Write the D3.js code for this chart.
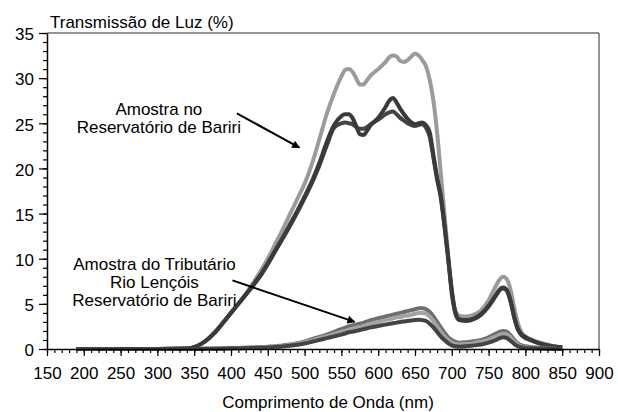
<!DOCTYPE html>
<html>
<head>
<meta charset="utf-8">
<script src="https://cdn.jsdelivr.net/npm/d3@7"></script>
<style>
  body { margin: 0; background: #fff; }
  text { font-family: "Liberation Sans", Arial, sans-serif; fill: #000; }
</style>
</head>
<body>
<div class="espectro"></div>
<script>
// Comprimento de onda (nm)
var onda = [190, 300, 340, 350, 360, 370, 380, 390, 400, 410, 420, 430, 440, 450, 460, 470, 480, 490,
  500, 510, 520, 530, 540, 550, 555, 560, 565, 570, 575, 580, 585, 590, 600, 610, 615, 620, 625, 630,
  635, 640, 645, 650, 655, 660, 665, 670, 675, 680, 685, 690, 695, 700, 705, 710, 720, 730, 740, 750,
  760, 765, 770, 775, 780, 785, 790, 795, 800, 810, 820, 830, 840, 850];

// Reservatorio de Bariri (3 amostras)
var resClaro = [0, 0, 0.05, 0.2, 0.6, 1.2, 2.0, 3.0, 4.0, 5.0, 6.1, 7.3, 8.6, 10.0, 11.6, 13.2, 14.9, 16.6,
  18.3, 20.5, 23.2, 26.0, 28.3, 30.2, 30.9, 31.0, 30.7, 30.0, 29.3, 29.3, 29.8, 30.3, 31.0, 31.8, 32.3, 32.5, 32.4, 31.9,
  31.8, 32.0, 32.4, 32.7, 32.5, 32.0, 31.3, 29.8, 27.5, 24.0, 19.5, 15.0, 10.5, 6.0, 4.2, 3.7, 3.6, 3.8, 4.3, 5.4,
  7.0, 7.7, 8.0, 7.7, 6.5, 4.5, 2.8, 1.8, 1.4, 1.0, 0.7, 0.5, 0.3, 0.2];
var resEscuro1 = [0, 0, 0.05, 0.2, 0.6, 1.2, 2.0, 3.0, 4.0, 5.0, 6.0, 7.1, 8.2, 9.5, 10.9, 12.3, 13.8, 15.3,
  16.9, 18.6, 20.6, 22.9, 24.8, 25.8, 26.0, 26.0, 25.6, 24.7, 23.8, 23.7, 24.2, 24.8, 25.6, 26.8, 27.5, 27.8, 27.3, 26.6,
  26.0, 25.5, 25.1, 24.9, 25.0, 25.1, 24.8, 24.0, 21.5, 19.0, 17.0, 13.8, 10.2, 6.5, 4.0, 3.3, 3.2, 3.4, 3.9, 4.8,
  6.0, 6.6, 6.8, 6.5, 5.3, 3.5, 2.2, 1.6, 1.3, 0.9, 0.6, 0.4, 0.25, 0.2];
var resEscuro2 = [0, 0, 0.05, 0.2, 0.6, 1.2, 2.0, 3.0, 4.0, 5.0, 6.0, 7.0, 8.1, 9.4, 10.8, 12.2, 13.6, 15.1,
  16.7, 18.4, 20.3, 22.5, 24.5, 25.0, 25.1, 25.0, 24.9, 24.6, 24.4, 24.4, 24.6, 24.9, 25.4, 26.0, 26.2, 26.3, 26.0, 25.6,
  25.3, 25.0, 24.8, 24.7, 24.8, 24.9, 24.5, 23.5, 21.2, 18.8, 16.8, 13.6, 10.0, 6.3, 3.9, 3.2, 3.1, 3.3, 3.8, 4.7,
  5.9, 6.5, 6.7, 6.4, 5.2, 3.4, 2.1, 1.5, 1.2, 0.9, 0.6, 0.4, 0.25, 0.2];

// Tributario Rio Lencois (3 amostras)
var tribMedio = [0, 0, 0, 0, 0.02, 0.03, 0.05, 0.07, 0.1, 0.12, 0.15, 0.18, 0.2, 0.25, 0.3, 0.4, 0.5, 0.65,
  0.85, 1.1, 1.35, 1.6, 1.9, 2.2, 2.35, 2.5, 2.6, 2.7, 2.8, 2.9, 3.05, 3.2, 3.4, 3.6, 3.7, 3.8, 3.9, 4.0,
  4.1, 4.2, 4.3, 4.4, 4.5, 4.5, 4.4, 4.1, 3.6, 3.0, 2.4, 1.8, 1.3, 1.0, 0.8, 0.7, 0.75, 0.85, 1.0, 1.3,
  1.7, 1.9, 2.0, 1.9, 1.5, 1.0, 0.6, 0.4, 0.3, 0.2, 0.1, 0.05, 0.02, 0];
var tribClaro = [0, 0, 0, 0, 0.02, 0.03, 0.04, 0.06, 0.08, 0.1, 0.12, 0.15, 0.18, 0.22, 0.27, 0.35, 0.45, 0.58,
  0.75, 0.95, 1.2, 1.4, 1.65, 1.9, 2.0, 2.15, 2.25, 2.35, 2.45, 2.55, 2.7, 2.8, 3.0, 3.2, 3.3, 3.4, 3.5, 3.55,
  3.65, 3.7, 3.8, 3.9, 4.0, 4.0, 3.9, 3.6, 3.1, 2.5, 1.9, 1.4, 1.0, 0.7, 0.55, 0.5, 0.55, 0.65, 0.8, 1.05,
  1.4, 1.6, 1.7, 1.6, 1.25, 0.8, 0.45, 0.3, 0.2, 0.12, 0.08, 0.04, 0.02, 0];
var tribEscuro = [0, 0, 0, 0, 0.01, 0.02, 0.03, 0.05, 0.07, 0.08, 0.1, 0.12, 0.15, 0.18, 0.22, 0.28, 0.36, 0.47,
  0.6, 0.8, 1.0, 1.2, 1.4, 1.6, 1.72, 1.85, 1.92, 2.0, 2.1, 2.2, 2.3, 2.4, 2.55, 2.7, 2.78, 2.85, 2.92, 3.0,
  3.05, 3.1, 3.15, 3.2, 3.25, 3.2, 3.1, 2.8, 2.4, 1.9, 1.4, 1.0, 0.65, 0.4, 0.3, 0.25, 0.3, 0.4, 0.5, 0.7,
  1.0, 1.2, 1.3, 1.2, 0.9, 0.55, 0.3, 0.2, 0.12, 0.08, 0.05, 0.03, 0.01, 0];

var xTicks = [150, 200, 250, 300, 350, 400, 450, 500, 550, 600, 650, 700, 750, 800, 850, 900];
var yTicks = [0, 5, 10, 15, 20, 25, 30, 35];

var series = [
  { nome: "resClaro", valores: resClaro, cor: "#9b9b9b" },
  { nome: "resEscuro2", valores: resEscuro2, cor: "#444444" },
  { nome: "resEscuro1", valores: resEscuro1, cor: "#3a3a3a" },
  { nome: "tribMedio", valores: tribMedio, cor: "#6e6e6e" },
  { nome: "tribClaro", valores: tribClaro, cor: "#a3a3a3" },
  { nome: "tribEscuro", valores: tribEscuro, cor: "#444444" }
];

var width = 618, height = 412;
var margin = { top: 33, right: 19, bottom: 63, left: 47 },
    w = width - margin.left - margin.right,
    h = height - margin.top - margin.bottom;

var svg = d3.select(".espectro")
    .append("svg")
    .attr("width", width)
    .attr("height", height);

var defs = svg.append("defs");
defs.append("marker")
    .attr("id", "seta")
    .attr("viewBox", "0 0 10 10")
    .attr("refX", 9)
    .attr("refY", 5)
    .attr("markerWidth", 11)
    .attr("markerHeight", 8)
    .attr("markerUnits", "userSpaceOnUse")
    .attr("orient", "auto")
    .append("path")
    .attr("d", "M0,0L10,5L0,10Z")
    .attr("fill", "#000");

var g = svg.append("g")
    .attr("transform", "translate(" + margin.left + "," + margin.top + ")");

var x = d3.scaleLinear().domain([150, 900]).range([0, w]);
var y = d3.scaleLinear().domain([0, 35]).range([h, 0]);

// moldura superior e direita
g.append("line")
    .attr("x1", 0).attr("x2", w).attr("y1", 0).attr("y2", 0)
    .attr("stroke", "#6f6f6f").attr("stroke-width", 1.5);
g.append("line")
    .attr("x1", w).attr("x2", w).attr("y1", 0).attr("y2", h)
    .attr("stroke", "#6f6f6f").attr("stroke-width", 1.5);

var linha = d3.line()
    .x(function(d, i) { return x(onda[i]); })
    .y(function(d) { return y(d); })
    .curve(d3.curveMonotoneX);

g.selectAll(".curva")
    .data(series)
    .enter()
    .append("path")
    .attr("class", "curva")
    .attr("fill", "none")
    .attr("stroke", function(d) { return d.cor; })
    .attr("stroke-width", 4)
    .attr("stroke-linejoin", "round")
    .attr("d", function(d) { return linha(d.valores); });

// eixos
var minorX = d3.range(150, 901, 10);
var minorY = d3.range(0, 36, 1);

g.append("g")
    .attr("transform", "translate(0," + h + ")")
    .call(d3.axisBottom(x).tickValues(minorX).tickSize(4).tickFormat(""))
    .call(function(s) { s.select(".domain").remove(); });

g.append("g")
    .attr("class", "xAxis")
    .attr("transform", "translate(0," + h + ")")
    .call(d3.axisBottom(x).tickValues(xTicks).tickSize(7).tickSizeOuter(0).tickPadding(11).tickFormat(d3.format("d")));

g.append("g")
    .call(d3.axisLeft(y).tickValues(minorY).tickSize(4).tickFormat(""))
    .call(function(s) { s.select(".domain").remove(); });

g.append("g")
    .attr("class", "yAxis")
    .call(d3.axisLeft(y).tickValues(yTicks).tickSize(8).tickSizeOuter(0).tickPadding(5).tickFormat(d3.format("d")));

g.selectAll(".tick line").attr("stroke", "#000").attr("stroke-width", 1.2);
g.selectAll(".domain").attr("stroke", "#000").attr("stroke-width", 1.5);
g.selectAll(".tick text")
    .style("font-family", "'Liberation Sans', Arial, sans-serif")
    .style("font-size", "17px")
    .attr("fill", "#000");
g.selectAll(".yAxis .tick text").attr("dy", "0.4em");

// titulos
svg.append("text")
    .attr("x", 50).attr("y", 28)
    .style("font-size", "17px")
    .text("Transmissão de Luz (%)");

svg.append("text")
    .attr("x", margin.left + w / 2 + 5).attr("y", 408)
    .attr("text-anchor", "middle")
    .style("font-size", "17px")
    .text("Comprimento de Onda (nm)");

// anotacoes
var notas = [
  { linhas: ["Amostra no", "Reservatório de Bariri"], onda: 302, valor: 25.9,
    seta: [408, 26.1, 493, 22.3] },
  { linhas: ["Amostra do Tributário", "Rio Lençóis", "Reservatório de Bariri"], onda: 296, valor: 8.75,
    seta: [402, 7.6, 568, 3.0] }
];

notas.forEach(function(n) {
  var t = g.append("text")
      .attr("text-anchor", "middle")
      .style("font-size", "17px");
  n.linhas.forEach(function(l, i) {
    t.append("tspan")
        .attr("x", x(n.onda))
        .attr("y", y(n.valor) + i * 18)
        .text(l);
  });
  g.append("line")
      .attr("x1", x(n.seta[0])).attr("y1", y(n.seta[1]))
      .attr("x2", x(n.seta[2])).attr("y2", y(n.seta[3]))
      .attr("stroke", "#000")
      .attr("stroke-width", 2)
      .attr("marker-end", "url(#seta)");
});
</script>
</body>
</html>
